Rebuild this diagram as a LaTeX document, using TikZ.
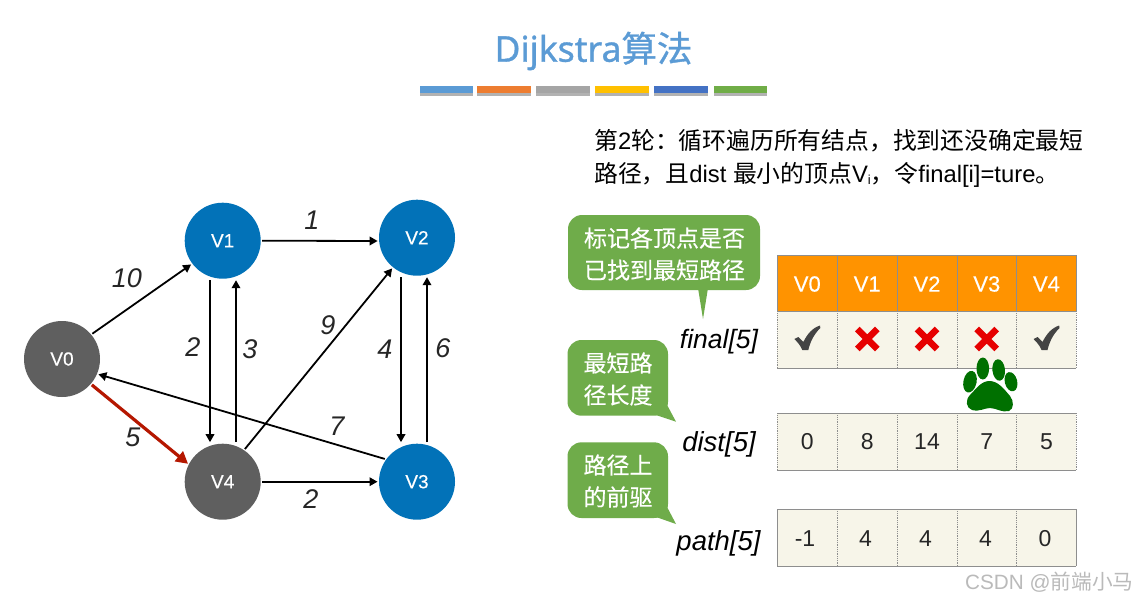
\documentclass[tikz,border=0pt]{standalone}
\usepackage{fontspec}
\setmainfont{Liberation Sans}
\newfontfamily\cjk{Noto Sans CJK SC}
\newfontfamily\cjktitle[FakeBold=1]{Noto Sans CJK SC}
\newfontfamily\lattitle[FakeBold=1]{Noto Sans}
\newfontfamily\medlat[FakeBold=0.3]{Liberation Sans}
\newfontfamily\cjkmed[FakeBold=0.25]{Noto Sans CJK SC}
\usetikzlibrary{arrows.meta}
\newcommand{\fsz}[1]{\fontsize{#1}{#1}\selectfont}
\definecolor{vblue}{HTML}{0272B8}
\definecolor{vgray}{HTML}{5F5F5F}
\definecolor{cellbg}{HTML}{F7F5E9}
\definecolor{headbg}{HTML}{FF9300}
\definecolor{gridc}{HTML}{8E8E8E}
\definecolor{calloutg}{HTML}{6FAC4A}
\definecolor{titleb}{HTML}{5B9BD5}
\definecolor{pawg}{HTML}{007000}
\definecolor{xred}{HTML}{E60000}
\definecolor{ticki}{HTML}{444444}
\definecolor{redge}{HTML}{B51700}
\tikzset{
  vert/.style={circle,minimum size=76pt,inner sep=0pt,outer sep=0pt,text=white,font=\medlat\fsz{19}},
  vblue/.style={vert,fill=vblue},
  vgrey/.style={vert,fill=vgray},
  edgeb/.style={draw=black,line width=1.8pt,-{Triangle[length=8pt,width=8.5pt]},shorten >=1.5pt,shorten <=1.5pt},
  edgered/.style={draw=redge,line width=3.2pt,-{Triangle[length=12pt,width=12.5pt]},shorten >=1pt,shorten <=1.5pt},
  wlabel/.style={font=\fsz{27}\itshape,text=black!85,inner sep=0pt},
  arrlabel/.style={font=\fsz{27.5}\itshape,text=black,inner sep=0pt},
  cellt/.style={font=\fsz{23},text=black!85,inner sep=0pt},
  headt/.style={font=\medlat\fsz{22},text=white,inner sep=0pt},
  bubble/.style={fill=calloutg,rounded corners=14pt},
  bubt/.style={text=white,align=center,inner sep=0pt,font=\cjkmed\fontsize{23}{32}\selectfont},
  grids/.style={draw=gridc,line width=1pt},
  gridd/.style={draw=gridc,line width=.8pt,densely dotted},
  barshadow/.style={fill=black,opacity=.3}
}
\newcommand{\tickmark}[2]{\fill[ticki,shift={(#1,#2)}] (-13,-1) -- (-9,-3) -- (-4,2) .. controls (0,-6) and (5,-12) .. (12.7,-14.5) -- (13,-12) .. controls (6,-5) and (3,2) .. (1,10) -- (-5,10) .. controls (-7,5) and (-10,2) .. (-13,-1) -- cycle;}
\newcommand{\crossmark}[2]{\draw[xred,line width=6.5pt,shift={(#1,#2)}] (-10,-10) -- (10,10) (-10,10) -- (10,-10);}
\begin{document}
\begin{tikzpicture}[x=1pt,y=-1pt]
\useasboundingbox (0,0) rectangle (1139,602);
\fill[white] (0,0) rectangle (1139,602);

% title
\node[inner sep=0pt,text=titleb] (title) at (593.5,51) {\fsz{35.5}\lattitle Dijkstra\cjktitle 算法};
\foreach \a/\b/\c in {420/473/5B9BD5,477/531/ED7D31,536/590/A5A5A5,595/649/FFC000,654/708/4472C4,714/767/70AD47}{
  \definecolor{barc}{HTML}{\c}
  \fill[barshadow] (\a,88) rectangle (\b,95.5);
  \fill[barc] (\a,86) rectangle (\b,93);
}

% graph
\node[vgrey] (v0) at (62,359) {V0};
\node[vblue] (v1) at (222.7,240.7) {V1};
\node[vblue] (v2) at (417,237.7) {V2};
\node[vblue] (v3) at (417,481.7) {V3};
\node[vgrey] (v4) at (222.7,481.7) {V4};

\draw[edgeb] (v0.{40}) -- (v1.{217});
\draw[edgeb] (v1.east) -- (v2.{185});
\draw[edgeb] (v4.east) -- (v3.west);
\draw[edgeb] ([xshift=-12.7pt]v1.south) -- ([xshift=-12.7pt]v4.north);
\draw[edgeb] ([xshift=13.3pt]v4.north) -- ([xshift=13.3pt]v1.south);
\draw[edgeb] ([xshift=-16pt]v2.south) -- ([xshift=-16pt]v3.north);
\draw[edgeb] ([xshift=10pt]v3.north) -- ([xshift=10pt]v2.south);
\draw[edgeb] (v4.{56}) -- (v2.{231});
\draw[edgeb] (v3.{144}) -- (v0.{-23});
\draw[edgered] (v0.{-41}) -- (v4.{153});

\node[wlabel] (l10) at (127,278) {10};
\node[wlabel] (l2a) at (193,347) {2};
\node[wlabel] (l3) at (250,349) {3};
\node[wlabel] (l5) at (133,437) {5};
\node[wlabel] (l1) at (312,220) {1};
\node[wlabel] (l9) at (328,325) {9};
\node[wlabel] (l4) at (385,349) {4};
\node[wlabel] (l6) at (443,348) {6};
\node[wlabel] (l7) at (337,426) {7};
\node[wlabel] (l2b) at (311,499) {2};

% description
\node[anchor=west,align=left,inner sep=0pt,font=\fontsize{23.8}{33}\selectfont] (desc) at (594,158.5)
 {{\cjk 第}2{\cjk 轮：循环遍历所有结点，找到还没确定最短}\\
  {\cjk 路径，且}dist {\cjk 最小的顶点}V\raisebox{-2pt}{\fsz{13}i}{\cjk ，令}final[i]=ture{\cjk 。}};

% callouts
\fill[bubble] (568,215) rectangle (760,290);
\fill[calloutg] (698,288) -- (703,319) -- (708,288) -- cycle;
\node[bubt] (b1) at (664.5,254) {标记各顶点是否\\已找到最短路径};
\fill[bubble] (567.5,340) rectangle (668,415.7);
\fill[calloutg] (666,403) -- (676,421.7) -- (656,415) -- cycle;
\node[bubt] (b2) at (618,379) {最短路\\径长度};
\fill[bubble] (567.5,442.3) rectangle (668,518);
\fill[calloutg] (666,505) -- (676,524) -- (656,517) -- cycle;
\node[bubt] (b3) at (618,481) {路径上\\的前驱};

\node[arrlabel,font=\fsz{26.5}\itshape] (afinal) at (719,342) {final[5]};
\node[arrlabel] (adist) at (719,444) {dist[5]};
\node[arrlabel] (apath) at (718.5,543) {path[5]};

% tables
\fill[headbg] (777.3,255) rectangle (1076.3,311.3);
\fill[cellbg] (777.3,311.3) rectangle (1076.3,368);
\fill[cellbg] (777.3,413.3) rectangle (1076.3,470);
\fill[cellbg] (777.3,509.3) rectangle (1076.3,566);
\foreach \y in {255,311.3,368,413.3,470,509.3,566}{
  \draw[grids] (777.3,\y) -- (1076.3,\y);
}
\foreach \x in {777.3,837.3,897,957,1016.7,1076.3}{
  \draw[grids] (\x,255) -- (\x,311.3);
}
\foreach \x in {837.3,897,957,1016.7}{
  \draw[gridd] (\x,311.3) -- (\x,368);
  \draw[gridd] (\x,413.3) -- (\x,470);
  \draw[gridd] (\x,509.3) -- (\x,566);
}
\foreach \x in {777.3,1076.3}{
  \draw[gridd] (\x,311.3) -- (\x,368);
  \draw[gridd] (\x,413.3) -- (\x,470);
  \draw[grids] (\x,509.3) -- (\x,566);
}
\foreach \x/\t/\n in {807.3/V0/a,867.2/V1/b,927/V2/c,986.8/V3/d,1046.5/V4/e}{
  \node[headt] (h\n) at (\x,284) {\t};
}
\foreach \x/\t/\n in {807.3/0/a,867.2/8/b,927/14/c,986.8/7/d,1046.5/5/e}{
  \node[cellt] (d\n) at (\x,441.5) {\t};
}
\foreach \x/\t/\n in {805/-1/a,865.5/4/b,925.5/4/c,985.5/4/d,1045/0/e}{
  \node[cellt] (p\n) at (\x,539) {\t};
}
\tickmark{807.3}{340}
\tickmark{1046.5}{340}
\crossmark{867.3}{339}
\crossmark{927}{339}
\crossmark{986.7}{339}

% paw
\fill[pawg,rotate around={-12:(970,381.7)}] (970,381.7) ellipse [x radius=6.6,y radius=11];
\fill[pawg] (982.8,368.5) ellipse [x radius=6.3,y radius=11];
\fill[pawg,rotate around={6:(998.7,370)}] (998.7,370) ellipse [x radius=6.3,y radius=10.8];
\fill[pawg,rotate around={14:(1011,381.7)}] (1011,381.7) ellipse [x radius=6.2,y radius=9.8];
\fill[pawg] (989.5,381) .. controls (981,381) and (976,389) .. (970,395)
  .. controls (965,400) and (966,408) .. (972,410)
  .. controls (980,412) and (984,408) .. (990,408)
  .. controls (996,408) and (1002,413) .. (1009,411)
  .. controls (1014,409) and (1014,401) .. (1010,396)
  .. controls (1004,389) and (998,381) .. (989.5,381) -- cycle;

% watermark
\node[inner sep=0pt,anchor=west,text=black!27] (wm) at (965,582) {\fsz{20.7}CSDN @{\cjk 前端小马}};
\end{tikzpicture}
\end{document}
